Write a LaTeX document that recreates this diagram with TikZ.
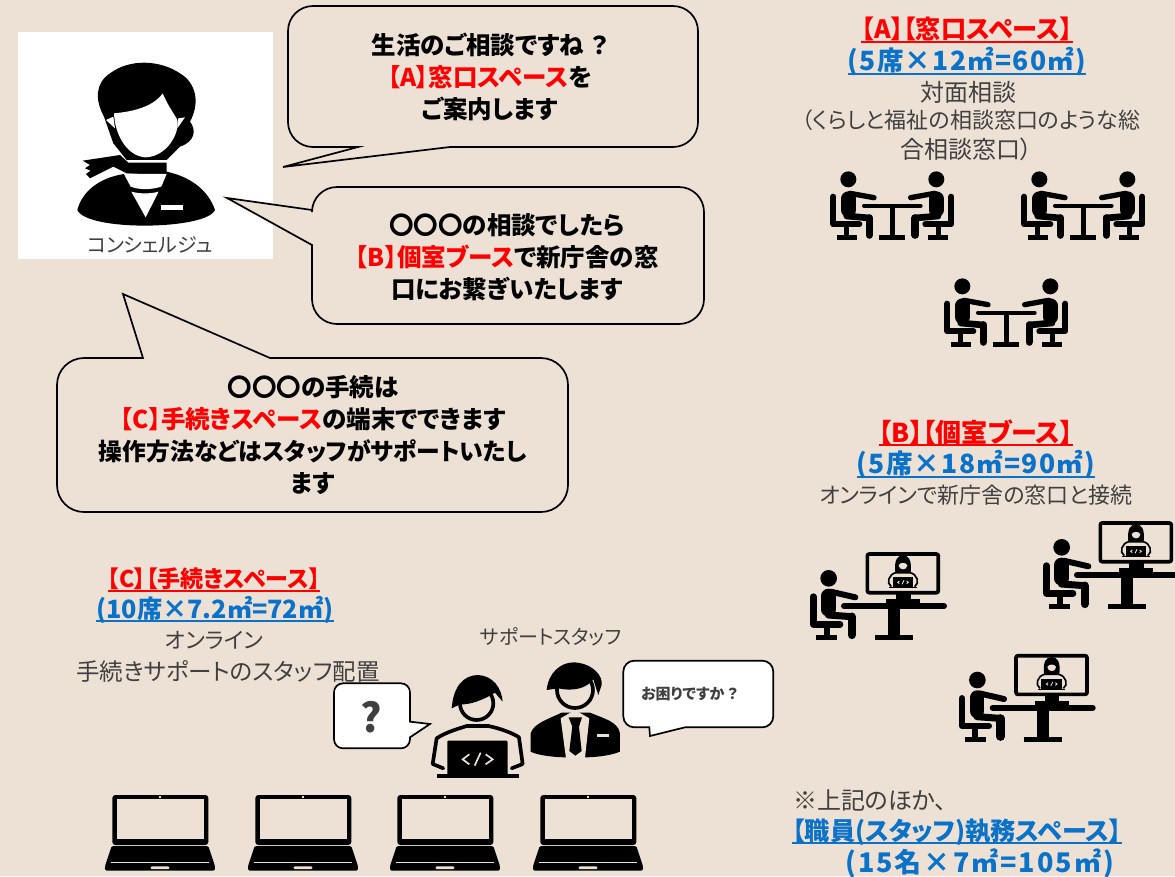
\documentclass[tikz,border=0pt]{standalone}
\usepackage{fontspec}
\setmainfont{Noto Sans CJK JP}[RawFeature=+palt]
\definecolor{paper}{HTML}{EDE1D5}
\definecolor{ink}{HTML}{404040}
\definecolor{areablue}{HTML}{0A72C8}
\definecolor{areared}{HTML}{FF0000}
% underlined run whose rule takes the colour of the text
\newcommand{\ulined}[1]{\setbox0\hbox{#1}\leavevmode\rlap{\raisebox{-4pt}{\rule{\wd0}{2pt}}}\box0 }
\newcommand{\redt}[1]{\textcolor{areared}{#1}}
% one seated figure with a chair, facing right
\newcommand{\seatedfigure}{%
  \fill (145,58) circle (24);
  \draw[lw=44,line cap=round] (145,116) -- (145,150);
  \draw[lw=16,line cap=round] (150,100) -- (222,113);
  \draw[lw=20,line cap=round] (140,168) -- (208,174);
  \draw[lw=23,line cap=round] (208,174) -- (208,225);
  \draw[lw=18,line cap=round,line join=round] (100,110) -- (100,193) -- (178,193);
  \draw[lw=15] (139,193) -- (139,230);
  \draw[lw=15] (110,232) -- (170,232);
}
\tikzset{
  lw/.style={line width=#1*0.3333pt},
  fine/.style={x=0.3333pt,y=-0.3333pt},
  balloon/.style={draw=black,line width=1.7pt,fill=paper,line join=miter},
  balloonw/.style={draw=black,line width=1.7pt,fill=white,line join=miter},
  say/.style={font=\bfseries\fontsize{24.5}{31.7}\selectfont,align=center,inner sep=0pt,text=black},
  areared/.style={font=\bfseries\fontsize{25.2}{28}\selectfont,inner sep=0pt,text=areared},
  areablue/.style={font=\bfseries\fontsize{25.2}{28}\selectfont,inner sep=0pt,text=areablue},
  areasize/.style={areablue,font=\bfseries\fontsize{26.5}{28}\selectfont\addfontfeature{LetterSpace=5}},
  plain/.style={font=\fontsize{24}{29}\selectfont,inner sep=0pt,text=ink,align=center},
  % two figures across a small table
  meeting/.pic={
    \begin{scope}[fine]
      \seatedfigure
      \begin{scope}[shift={(554,0)},xscale=-1]\seatedfigure\end{scope}
      \draw[lw=12,line cap=round] (192,137) -- (362,137);
      \draw[lw=16] (277,137) -- (277,232);
      \draw[lw=14] (238,232) -- (316,232);
    \end{scope}
  },
  % a figure at a desk talking to a remote clerk on a screen
  booth/.pic={
    \begin{scope}[fine]
      \fill (86,205) circle (25);
      \draw[lw=44,line cap=round] (85,258) -- (85,298);
      \draw[lw=18,line cap=round] (92,245) -- (166,262);
      \draw[lw=21,line cap=round] (85,315) -- (155,320);
      \draw[lw=25,line cap=round] (155,320) -- (155,375);
      \draw[lw=20,line cap=round,line join=round] (40,260) -- (40,343) -- (120,343);
      \draw[lw=18] (80,343) -- (80,383);
      \draw[lw=16] (48,383) -- (112,383);
      \draw[lw=18,line cap=round] (132,288) -- (432,288);
      \draw[lw=36] (282,288) -- (282,385);
      \draw[lw=16] (225,383) -- (340,383);
      \fill (288,250) rectangle (332,272);
      \fill (258,268) rectangle (360,288);
      \draw[lw=11,rounded corners=2pt,fill=paper] (202,132) rectangle (415,248);
      % clerk shown on the screen
      \fill (286,188) .. controls (282,150) and (292,136) .. (309,136)
        .. controls (326,136) and (336,150) .. (332,188) -- cycle;
      \fill[paper] (296,166) .. controls (300,156) and (318,156) .. (322,166)
        .. controls (322,182) and (296,182) .. (296,166) -- cycle;
      \draw[lw=5,fill=paper] (274,230) .. controls (258,220) and (266,192) .. (288,188)
        -- (330,188) .. controls (352,192) and (360,220) .. (344,230);
      \fill (278,201) rectangle (340,232);
      \draw[lw=4] (268,233) -- (350,233);
      \draw[paper,lw=2.5] (298,213) -- (293,217) -- (298,221) (320,213) -- (325,217) -- (320,221) (312,211) -- (306,223);
    \end{scope}
  },
  % open notebook computer
  notebook/.pic={
    \begin{scope}[fine]
      \fill[rounded corners=3pt] (67,195) -- (67,45) -- (355,45) -- (355,195) -- cycle;
      \fill[paper] (80,56) rectangle (342,178);
      \fill[paper] (207,48) rectangle (213,53);
      \fill[rounded corners=1.5pt] (65,198) -- (355,198) -- (375,258) -- (375,272) -- (45,272) -- (45,258) -- cycle;
      \fill[paper] (62,246) -- (358,246) -- (358,250) -- (62,250) -- cycle;
      \fill[paper,rounded corners=1pt] (182,259) rectangle (238,267);
    \end{scope}
  },
}
\begin{document}
\begin{tikzpicture}[x=1pt,y=-1pt]
\useasboundingbox (0,0) rectangle (1175,876);
\fill[paper] (0,0) rectangle (1175,876);

% reception clerk panel
\fill[white] (18,32) rectangle (273,259);
\begin{scope}[fine]
  % hair and bun
  \fill (312,350) .. controls (285,300) and (285,250) .. (330,220)
    .. controls (390,175) and (480,180) .. (540,220)
    .. controls (590,250) and (600,310) .. (570,365)
    .. controls (590,390) and (585,425) .. (540,440)
    -- (500,480) -- (380,480) -- (340,430) -- cycle;
  % face
  \fill[white] (342,340) .. controls (400,335) and (460,320) .. (488,280)
    .. controls (505,320) and (525,345) .. (532,360)
    .. controls (540,400) and (500,470) .. (437,472)
    .. controls (385,470) and (345,410) .. (342,340) -- cycle;
  \fill[white] (318,360) -- (340,350) -- (345,385) -- cycle;
  \fill[white] (555,352) -- (535,355) -- (532,385) -- cycle;
  % scarf
  \fill (248,482) -- (360,465) -- (385,488) -- (500,488) -- (500,520) -- (380,520)
    -- (340,500) -- (270,535) -- (258,522) -- (272,512) -- (255,505) -- (270,495) -- cycle;
  % jacket
  \fill (232,630) .. controls (245,580) and (290,535) .. (372,522)
    -- (500,515) .. controls (570,530) and (625,570) .. (645,630)
    .. controls (620,690) and (260,695) .. (232,630) -- cycle;
  % blouse and badge
  \fill[white] (372,522) -- (500,522) -- (484,560) .. controls (450,570) and (420,570) .. (392,560) -- cycle;
  \fill[white] (394,575) .. controls (420,582) and (450,582) .. (476,575) -- (437,652) -- cycle;
  \fill[white] (483,614) rectangle (550,629);
\end{scope}
\node[font=\fontsize{20}{24}\selectfont,text=ink,inner sep=0pt] (clerkname) at (150,245) {コンシェルジュ};

% speech balloon: general consultation
\draw[balloon] (283,167) -- (358,147) [rounded corners=25pt] -- (288,147) -- (288,6) -- (698,6) -- (698,147) [sharp corners] -- (450,147) -- cycle;
\node[say] (sayA) at (490,77) {生活のご相談ですね\hspace{7pt}？\hspace{3pt}\\\redt{【A】窓口スペース}を\\ご案内します};

% speech balloon: private booth
\draw[balloon] (227,198) -- (312,210) [rounded corners=25pt] -- (312,187) -- (704,187) -- (704,324) -- (312,324) [sharp corners] -- (312,245) -- cycle;
\node[say] (sayB) at (507,257) {〇〇〇の相談でしたら\\\redt{【B】個室ブース}で新庁舎の窓\\口にお繋ぎいたします};

% speech balloon: procedure terminals
\draw[balloon] (123,294) -- (270,358) [rounded corners=27pt] -- (568,358) -- (568,512) -- (57,512) -- (57,358) [sharp corners] -- (143,358) -- cycle;
\node[say] (sayC) at (313,435) {〇〇〇の手続は\\\redt{【C】手続きスペース}の端末でできます\\{\fontsize{23.8}{31.7}\selectfont 操作方法などはスタッフがサポートいたし}\\ます};

% room A
\node[areared] (titleA) at (967,30) {\ulined{【A】【窓口スペース】}};
\node[areasize] (sizeA) at (967,62) {\ulined{(5席×12㎡=60㎡)}};
\node[plain] (noteA1) at (968,92) {対面相談};
\node[plain,font=\fontsize{22}{29}\selectfont] (noteA2) at (971,120) {（くらしと福祉の相談窓口のような総};
\node[plain] (noteA3) at (966,149) {合相談窓口）};
\pic (tableA1) at (800,160) {meeting};
\pic (tableA2) at (991,160) {meeting};
\pic (tableA3) at (914,267) {meeting};

% room B
\node[areared,font=\bfseries\fontsize{26}{28}\selectfont] (titleB) at (976,433) {\ulined{【B】【個室ブース】}};
\node[areasize] (sizeB) at (976,465) {\ulined{(5席×18㎡=90㎡)}};
\node[plain,font=\fontsize{22}{29}\selectfont] (noteB) at (976,495) {オンラインで新庁舎の窓口と接続};
\pic (boothB1) at (800,510) {booth};
\pic (boothB2) at (1033,479) {booth};
\pic (boothB3) at (948.7,611.7) {booth};

% room C
\node[areared,font=\bfseries\fontsize{23}{28}\selectfont] (titleC) at (214,580) {\ulined{【C】【手続きスペース】}};
\node[areablue] (sizeC) at (215,610) {\ulined{(10席×7.2㎡=72㎡)}};
\node[plain,font=\fontsize{22}{29}\selectfont] (noteC1) at (214,640) {オンライン};
\node[plain,font=\fontsize{23.5}{29}\selectfont] (noteC2) at (228,671) {手続きサポートのスタッフ配置};
\node[plain,font=\fontsize{20}{26}\selectfont] (staff) at (551,637) {サポートスタッフ};

% staff room remark
\node[plain,anchor=west] (extra) at (793,800) {※上記のほか、};
\node[areablue,anchor=west] (extraT) at (792,832) {\ulined{【職員(スタッフ)執務スペース】}};
\node[areablue,anchor=west,font=\bfseries\fontsize{27}{28}\selectfont\addfontfeature{LetterSpace=7.5}] (extraS) at (845,863) {(15名×7㎡=105㎡)};

\begin{scope}[shift={(320,620)},fine]
  % user at a notebook
  \draw[lw=11,fill=paper] (470,250) circle (50);
  \fill (395,265) .. controls (400,200) and (430,165) .. (475,165)
    .. controls (520,168) and (545,205) .. (548,245) -- (525,218)
    .. controls (490,240) and (450,255) .. (420,253) -- cycle;
  \draw[lw=11,line join=round,line cap=round] (370,445) -- (338,432) -- (350,355)
    .. controls (380,335) and (420,325) .. (440,318) -- (505,318)
    .. controls (540,325) and (580,340) .. (597,352) -- (608,432) -- (575,445);
  \fill[rounded corners=1pt] (382,362) rectangle (563,470);
  \fill (350,463) rectangle (596,475);
  \draw[paper,lw=5] (448,403) -- (428,418) -- (448,433) (497,403) -- (518,418) -- (497,433) (482,398) -- (464,437);
  % suited attendant
  \fill (632,340) .. controls (640,310) and (690,295) .. (725,278) -- (810,278)
    .. controls (850,295) and (895,305) .. (900,340) -- (900,395)
    .. controls (870,408) and (820,412) .. (795,412) -- (738,412)
    .. controls (700,412) and (650,405) .. (632,395) -- cycle;
  \fill[paper] (722,295) -- (765,270) -- (808,295) -- (795,414) -- (738,414) -- cycle;
  \fill (746,292) -- (786,292) -- (777,320) -- (785,393) -- (766,407) -- (748,393) -- (757,320) -- cycle;
  \fill[paper] (830,343) rectangle (868,351);
  \draw[lw=11,fill=paper] (765,210) circle (54);
  \fill (680,210) .. controls (685,160) and (720,127) .. (762,127)
    .. controls (820,130) and (850,170) .. (845,195) -- (835,225) -- (820,178)
    .. controls (800,205) and (760,215) .. (715,205) -- cycle;
  % question balloon
  \draw[balloonw] (330,312) -- (270,352) [rounded corners=9pt] -- (270,385) -- (42,385) -- (42,190) -- (270,190) [sharp corners] -- (270,305) -- cycle;
  % offer of help balloon
  \draw[balloonw] (990,348) -- (988,322) [rounded corners=11pt] -- (910,322) -- (910,122) -- (1360,122) -- (1360,322) [sharp corners] -- (1095,322) -- cycle;
\end{scope}
\node[font=\bfseries\fontsize{40}{44}\selectfont,text=ink,inner sep=0pt] (ask) at (371,717) {?};
\node[font=\bfseries\fontsize{15}{17}\selectfont,text=ink,inner sep=0pt,anchor=west] (offer) at (641,694) {お困りですか\hspace{3pt}？};

% row of terminals
\pic (pc1) at (90,780) {notebook};
\pic (pc2) at (233,780) {notebook};
\pic (pc3) at (375,780) {notebook};
\pic (pc4) at (518,780) {notebook};
\end{tikzpicture}
\end{document}
